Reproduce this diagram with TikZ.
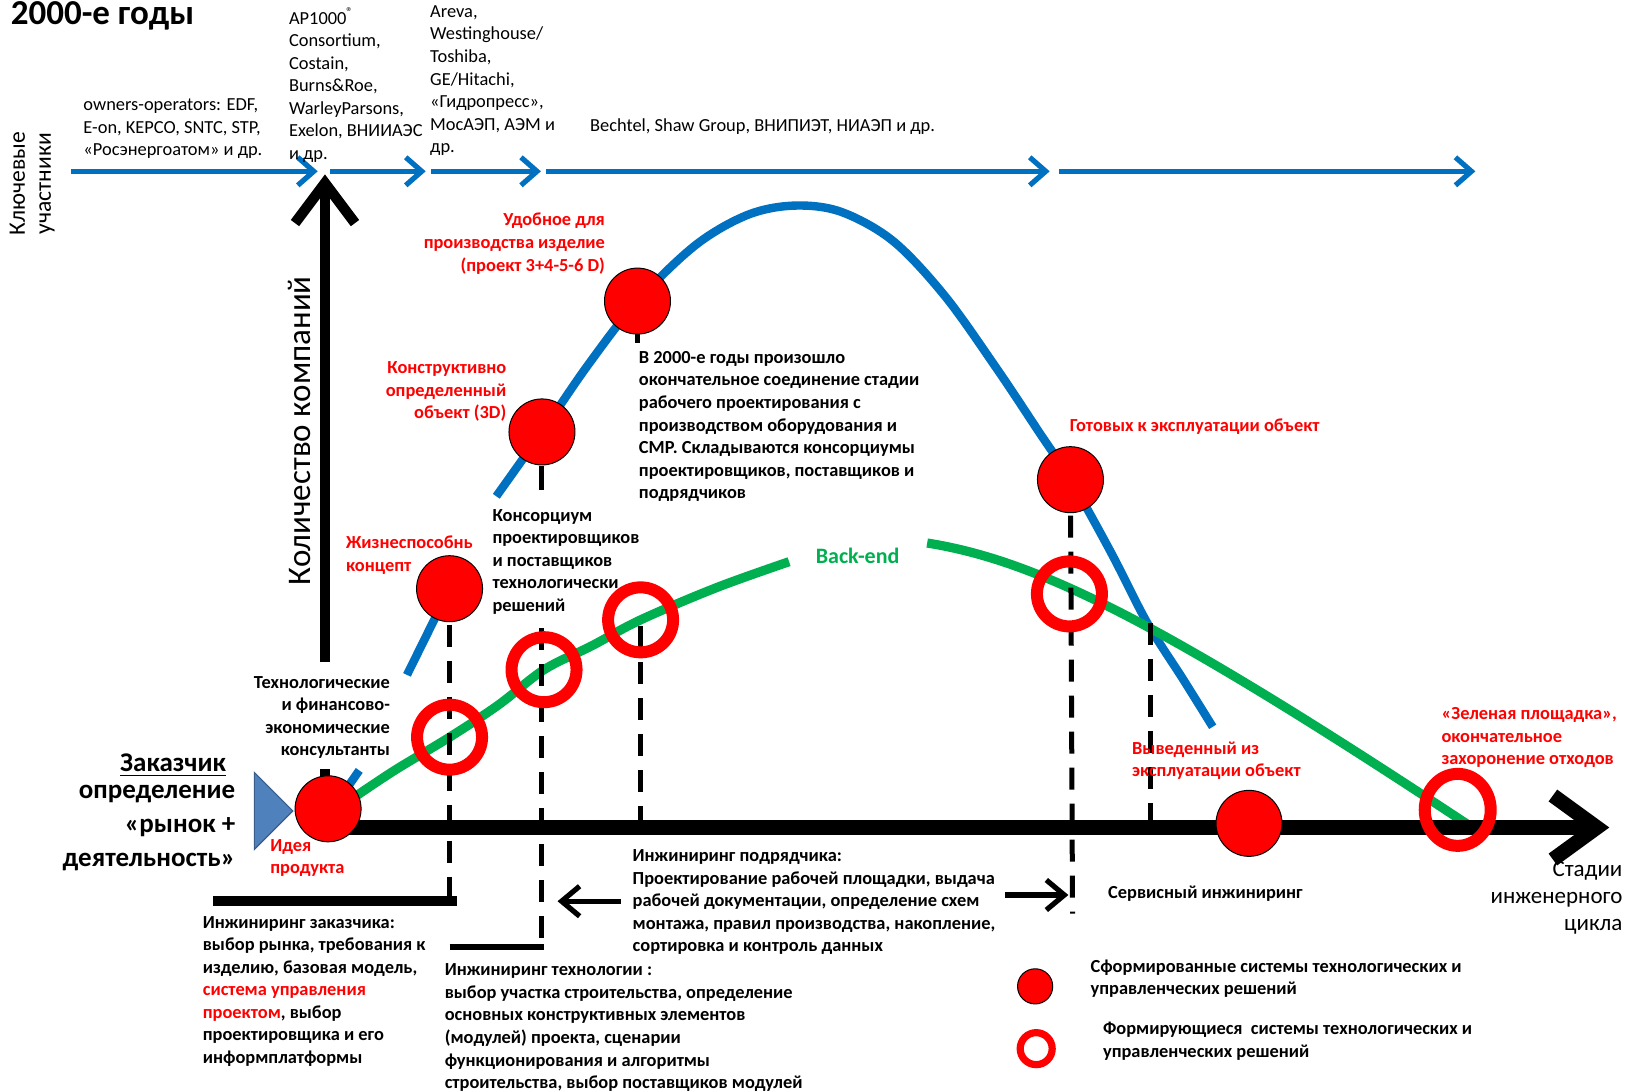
\documentclass[tikz,border=0pt]{standalone}
\usepackage{fontspec}
\setmainfont{Carlito}
\usetikzlibrary{arrows.meta,shapes.geometric}
\definecolor{myblue}{HTML}{0070C0}
\definecolor{mygreen}{HTML}{00B050}
\definecolor{tri}{HTML}{4F81BD}
\definecolor{trid}{HTML}{385D8A}
\begin{document}
\begin{tikzpicture}[x=0.51915pt,y=-0.51915pt,
  sm/.style={font=\fontsize{9.2}{11.27}\selectfont, inner sep=0pt, align=left},
  smb/.style={sm, font=\fontsize{9.2}{11.27}\selectfont\bfseries},
  redb/.style={smb, text=red},
  fullc/.style={circle, fill=red, draw=black, line width=0.5pt, minimum size=33pt, inner sep=0pt},
  ringc/.style={circle, draw=red, line width=6pt, minimum size=32.5pt, inner sep=0pt},
  blarrow/.style={myblue, line width=2.6pt, -{Straight Barb[length=8pt,width=14pt]}},
  dsh/.style={black, line width=2.5pt, dash pattern=on 11pt off 7pt},
  bluecurve/.style={myblue, line width=4.2pt},
  greencurve/.style={mygreen, line width=4.6pt},
  smallarrow/.style={black, line width=2.6pt, -{Straight Barb[length=9pt,width=15pt]}}
]
\useasboundingbox (0,0) rectangle (1568,1051);
% coordinates
\coordinate (b0) at (68,165);  \coordinate (b1) at (306,165);
\coordinate (b2) at (318,165); \coordinate (b3) at (410,165);
\coordinate (b4) at (415,165); \coordinate (b5) at (521,165);
\coordinate (b6) at (526,165); \coordinate (b7) at (1011,165);
\coordinate (b8) at (1020,165);\coordinate (b9) at (1421,165);
\coordinate (vtop) at (313,168); \coordinate (vbot) at (313,638);
\coordinate (vtick1) at (313,741); \coordinate (vtick2) at (313,765);
\coordinate (axstart) at (330,797); \coordinate (axend) at (1550,797);
\coordinate (c1) at (433,567); \coordinate (c2) at (522,416);
\coordinate (c3) at (614,290); \coordinate (c4) at (1031,462);
\coordinate (c5) at (1203,793);
\coordinate (r1) at (433,710); \coordinate (r2) at (524,645);
\coordinate (r3) at (617,597); \coordinate (r4) at (1030,572);
\coordinate (r5) at (1404,780);
\coordinate (ideac) at (316,779);
\coordinate (d1) at (433,868);
\coordinate (d2a) at (522,449); \coordinate (d2b) at (522,472);
\coordinate (d2c) at (522,605); \coordinate (d2d) at (522,912);
\coordinate (d3a) at (617,603); \coordinate (d3b) at (617,797);
\coordinate (d4) at (1033,880);
\coordinate (d5a) at (1108,600); \coordinate (d5b) at (1108,797);
\coordinate (t3a) at (614,300); \coordinate (t3b) at (614,330);
\coordinate (h1a) at (205,868); \coordinate (h1b) at (440,868);
\coordinate (h2a) at (433,912); \coordinate (h2b) at (524,912);
\coordinate (la1) at (598,868); \coordinate (la2) at (537,868);
\coordinate (ra1) at (968,862); \coordinate (ra2) at (1029,862);
\coordinate (bA1) at (392,650); \coordinate (bA2) at (330,765); \coordinate (bA3) at (346,742);
\coordinate (g2a) at (893,523); \coordinate (g2b) at (1415,795);

% top blue arrows
\draw[blarrow] (b0) -- (b1);
\draw[blarrow] (b2) -- (b3);
\draw[blarrow] (b4) -- (b5);
\draw[blarrow] (b6) -- (b7);
\draw[blarrow] (b8) -- (b9);
% vertical black arrow
\draw[line width=5.2pt, -{Straight Barb[length=20pt,width=30pt]}] (vbot) -- (vtop);
\draw[line width=5.2pt] (vtick1) -- (vtick2);
% blue curve
\draw[bluecurve] (bA1) -- (c1);
\draw[bluecurve] (bA2) -- (bA3);
\draw[bluecurve] plot[smooth, tension=0.55] coordinates {(478,478) (c2) (566,352) (c3) (670,236) (720,207) (765,198) (810,204) (860,232) (910,285) (960,355) (1000,415) (c4) (1070,532) (1105,600) (1140,655) (1168,700)};
% green curve
\draw[greencurve] plot[smooth, tension=0.55] coordinates {(338,770) (380,742) (r1) (480,679) (r2) (570,622) (r3) (690,566) (760,541)};
\draw[greencurve] (g2a) .. controls (1000,540) and (1120,600) .. (g2b);
% dashed lines
\draw[dsh] (c1) -- (d1);
\draw[line width=2.5pt] (d2a) -- (d2b);
\draw[dsh] (d2c) -- (d2d);
\draw[dsh] (d3a) -- (d3b);
\draw[dsh] (c4) -- (d4);
\draw[dsh] (d5a) -- (d5b);
\draw[line width=2.5pt] (t3a) -- (t3b);
% main axis
\draw[line width=7.3pt, -{Straight Barb[length=22pt,width=32pt]}] (axstart) -- (axend);
% brackets
\draw[line width=5pt] (h1a) -- (h1b);
\draw[line width=2.6pt] (h2a) -- (h2b);
% small arrows
\draw[smallarrow] (la1) -- (la2);
\draw[smallarrow] (ra1) -- (ra2);
% triangle
\filldraw[fill=tri, draw=trid, line width=0.6pt] (245,744) -- (282,781) -- (245,818) -- cycle;

% texts
\node[font=\fontsize{17.5}{20}\selectfont\bfseries, anchor=base west, inner sep=0] (title) at (10,24) {2000-е годы};
\node[font=\fontsize{11.8}{13}\selectfont, align=center, rotate=90, inner sep=0] (kl) at (31,177) {Ключевые\\участники};
\node[sm, anchor=north west] (own) at (80,95) {owners-operators: EDF,\\E-on, KEPCO, SNTC, STP,\\«Росэнергоатом» и др.};
\node[sm, anchor=north west] (ap) at (278,7) {AP1000\textsuperscript{®}\\Consortium,\\Costain,\\Burns\&Roe,\\WarleyParsons,\\Exelon, ВНИИАЭС\\и др.};
\node[sm, anchor=north west] (areva) at (414,5) {Areva,\\Westinghouse/\\Toshiba,\\GE/Hitachi,\\«Гидропресс»,\\МосАЭП, АЭМ и\\др.};
\node[sm, anchor=west] (bech) at (568,122) {Bechtel, Shaw Group, ВНИПИЭТ, НИАЭП и др.};
\node[font=\fontsize{16.5}{19}\selectfont, rotate=90, inner sep=0] (kol) at (288,415) {Количество компаний};

\node[redb, anchor=north east, align=right] (udob) at (583,205) {Удобное для\\производства изделие\\(проект 3+4-5-6 D)};
\node[redb, anchor=north east, align=right] (konstr) at (488,348) {Конструктивно\\определенный\\объект (3D)};
\node[redb, anchor=west] (gotov) at (1030,411) {Готовых к эксплуатации объект};
\node[redb, anchor=north west] (zhizn) at (333,516) {Жизнеспособнь\\концепт};
\node[redb, anchor=north west] (ideyat) at (260,808) {Идея\\продукта};
\node[redb, anchor=north west] (vyved) at (1090,714) {Выведенный из\\эксплуатации объект};
\node[redb, anchor=north west] (zelen) at (1388,681) {«Зеленая площадка»,\\окончательное\\захоронение отходов};

\node[smb, anchor=north west] (v2000) at (615,338) {В 2000-е годы произошло\\окончательное соединение стадии\\рабочего проектирования с\\производством оборудования и\\СМР. Складываются консорциумы\\проектировщиков, поставщиков и\\подрядчиков};
\node[smb, anchor=north west] (kons) at (474,490) {Консорциум\\проектировщиков\\и поставщиков\\технологически\\решений};
\node[smb, anchor=north east, align=right] (tehn) at (376,651) {Технологические\\и финансово-\\экономические\\консультанты};
\node[smb, anchor=north west] (izak) at (195,882) {Инжиниринг заказчика:\\выбор рынка, требования к\\изделию, базовая модель,\\\textcolor{red}{система управления}\\\textcolor{red}{проектом}, выбор\\проектировщика и его\\информплатформы};
\node[smb, anchor=north west] (itech) at (428,928) {Инжиниринг технологии :\\выбор участка строительства, определение\\основных конструктивных элементов\\(модулей) проекта, сценарии\\функционирования и алгоритмы\\строительства, выбор поставщиков модулей};
\node[smb, anchor=north west] (ipodr) at (609,818) {Инжиниринг подрядчика:\\Проектирование рабочей площадки, выдача\\рабочей документации, определение схем\\монтажа, правил производства, накопление,\\сортировка и контроль данных};
\node[smb, anchor=west] (serv) at (1067,861) {Сервисный инжиниринг};
\node[smb, anchor=north west] (lt1) at (1050,924) {Сформированные системы технологических и\\управленческих решений};
\node[smb, anchor=north west] (lt2) at (1062,984) {Формирующиеся~ системы технологических и\\управленческих решений};

\node[font=\fontsize{13.5}{16.9}\selectfont\bfseries, anchor=east, inner sep=0] (zak) at (218,737) {\underline{Заказчик}};
\node[font=\fontsize{13.5}{16.9}\selectfont\bfseries, anchor=north east, align=right, inner sep=0] (opr) at (227,756) {определение\\«рынок +\\деятельность»};
\node[font=\fontsize{11.5}{13.5}\selectfont, anchor=north east, align=right, inner sep=0] (stad) at (1563,829) {Стадии\\инженерного\\цикла};
\node[font=\fontsize{11}{12}\selectfont\bfseries, text=mygreen, inner sep=0] (be) at (826,535) {Back-end};

% circles and rings
\node[ringc] (ring1) at (r1) {};
\node[ringc] (ring2) at (r2) {};
\node[ringc] (ring3) at (r3) {};
\node[ringc] (ring4) at (r4) {};
\node[ringc, ellipse, minimum width=33pt, minimum height=36pt] (ring5) at (r5) {};
\node[fullc] (idea) at (ideac) {};
\node[fullc] (circ1) at (c1) {};
\node[fullc] (circ2) at (c2) {};
\node[fullc] (circ3) at (c3) {};
\node[fullc] (circ4) at (c4) {};
\node[fullc] (circ5) at (c5) {};
\node[fullc, minimum size=17.6pt] (lg1) at (997,950) {};
\node[ringc, minimum size=16pt, line width=3.6pt] (lg2) at (998,1010) {};
\end{tikzpicture}
\end{document}
